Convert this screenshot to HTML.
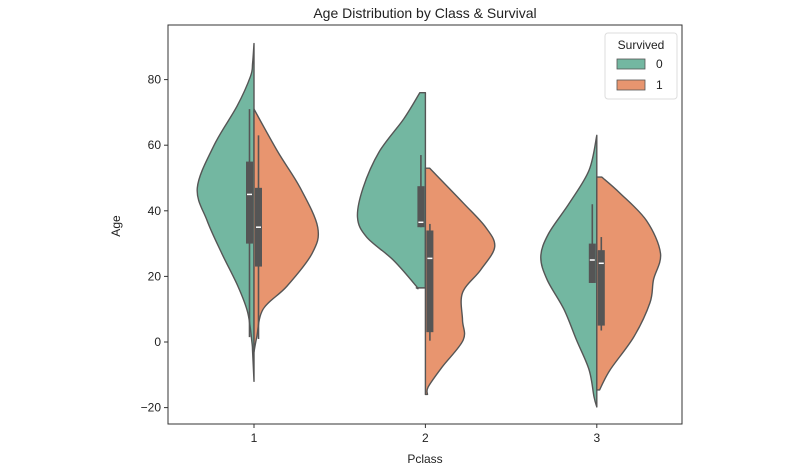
<!DOCTYPE html>
<html><head><meta charset="utf-8"><style>
body{margin:0;background:#fff;}
svg{display:block;font-family:"Liberation Sans","DejaVu Sans",sans-serif;}
</style></head><body>
<svg id="chart" width="800" height="470" viewBox="0 0 800 470" xmlns="http://www.w3.org/2000/svg">
<rect x="0" y="0" width="800" height="470" fill="#fff"/>
<text x="425" y="18" text-anchor="middle" font-size="14" fill="#222">Age Distribution by Class &amp; Survival</text>
<g id="plot"></g>
<text x="120" y="226" text-anchor="middle" font-size="12" fill="#222" transform="rotate(-90 120 226)">Age</text>
<text x="425" y="463" text-anchor="middle" font-size="12" fill="#222">Pclass</text>
<g>
<rect x="605" y="33" width="72" height="66" rx="3" fill="#fff" fill-opacity="0.8" stroke="#ddd"/>
<text x="641" y="49" text-anchor="middle" font-size="12" fill="#222">Survived</text>
<rect x="617" y="59" width="28" height="10" fill="#73b7a1" stroke="#555" stroke-width="0.8"/>
<text x="656" y="68" font-size="12" fill="#222">0</text>
<rect x="617" y="80" width="28" height="10" fill="#e8956f" stroke="#555" stroke-width="0.8"/>
<text x="656" y="89" font-size="12" fill="#222">1</text>
</g>
</svg>
<script>
const categories = ["1","2","3"];
const yTicks = [-20,0,20,40,60,80];
const ages_c1_s0 = [91,85,81,72,60,47,37,27,17,9,0,-3,-12];
const dens_c1_s0 = [0,0.02,0.05,0.24,0.57,0.81,0.67,0.46,0.23,0.09,0.03,0.02,0];
const ages_c1_s1 = [71,58,47,35,27,17,10,1.6,-3];
const dens_c1_s1 = [0,0.34,0.66,0.91,0.83,0.47,0.13,0.04,0];
const ages_c2_s0 = [76,68,58,47,38,32,25,17,16.5];
const dens_c2_s0 = [0.08,0.31,0.66,0.89,0.97,0.84,0.46,0.13,0.13];
const ages_c2_s1 = [53,42.4,35,29,22,15,6.7,0.6,-7.6,-13.7,-16];
const dens_c2_s1 = [0.06,0.54,0.86,0.99,0.79,0.53,0.53,0.54,0.24,0.04,0.03];
const ages_c3_s0 = [63,52.4,42.4,33,26,19,10,0.6,-8.5,-16.7,-19.8];
const dens_c3_s0 = [0,0.11,0.39,0.69,0.8,0.71,0.47,0.29,0.11,0.04,0];
const ages_c3_s1 = [50.3,45.4,37,27,19,12,1.6,-8.5,-14.6];
const dens_c3_s1 = [0.07,0.33,0.71,0.91,0.81,0.76,0.53,0.19,0.04];
// box stats: [whiskerLow, q1, median, q3, whiskerHigh]
const box_c1_s0 = [1.5,30,45,55,71];
const box_c1_s1 = [0.9,23,35,47,63];
const box_c2_s0 = [35,35,36.5,47.5,57];
const box_c2_s1 = [0.4,3,25.5,34,36];
const box_c3_s0 = [18,18,25,30,42];
const box_c3_s1 = [3.5,5,24,28,32];

const NS="http://www.w3.org/2000/svg";
const L=168,R=682,T=25,B=424;
const yMin=-25.1, yMax=96.5;
const y=v=>342-v*3.28;
const x=i=>254+i*171.4;
const widthScale=70;
const plot=document.getElementById('plot');
function mk(tag,attrs,parent){const e=document.createElementNS(NS,tag);for(const k in attrs)e.setAttribute(k,attrs[k]);(parent||plot).appendChild(e);return e;}

const frame=mk('rect',{x:L,y:T,width:R-L,height:B-T,fill:'none',stroke:'#333','stroke-width':1});



yTicks.forEach(t=>{
  const ln=mk('line',{x1:L-4,x2:L,y1:y(t),y2:y(t),stroke:'#333'});
  
  
  const tx=mk('text',{x:L-7,y:y(t)+4,'text-anchor':'end','font-size':12,fill:'#222'});
  tx.textContent=t<0?'\u2212'+Math.abs(t):String(t);
  
  
});
categories.forEach((c,i)=>{
  const ln=mk('line',{x1:x(i),x2:x(i),y1:B,y2:B+4,stroke:'#333'});
  
  
  const tx=mk('text',{x:x(i),y:B+18,'text-anchor':'middle','font-size':12,fill:'#222'});
  tx.textContent=c;
  
  
});

function smooth(pts){
  let d='';
  for(let i=0;i<pts.length-1;i++){
    const p0=pts[Math.max(0,i-1)],p1=pts[i],p2=pts[i+1],p3=pts[Math.min(pts.length-1,i+2)];
    const c1=[p1[0]+(p2[0]-p0[0])/6,p1[1]+(p2[1]-p0[1])/6];
    const c2=[p2[0]-(p3[0]-p1[0])/6,p2[1]-(p3[1]-p1[1])/6];
    d+=` C${c1[0]},${c1[1]} ${c2[0]},${c2[1]} ${p2[0]},${p2[1]}`;
  }
  return d;
}
const violins=[
  [0,-1,ages_c1_s0,dens_c1_s0,box_c1_s0],[0,1,ages_c1_s1,dens_c1_s1,box_c1_s1],
  [1,-1,ages_c2_s0,dens_c2_s0,box_c2_s0],[1,1,ages_c2_s1,dens_c2_s1,box_c2_s1],
  [2,-1,ages_c3_s0,dens_c3_s0,box_c3_s0],[2,1,ages_c3_s1,dens_c3_s1,box_c3_s1]];
violins.forEach(([ci,side,ages,dens,bx])=>{
  const cx=x(ci);
  const pts=ages.map((a,k)=>[cx+side*dens[k]*widthScale,y(a)]);
  let d=`M${cx},${y(ages[0])} L${pts[0][0]},${pts[0][1]}`+smooth(pts)+` L${cx},${y(ages[ages.length-1])} Z`;
  const p=mk('path',{d,fill:side<0?'#73b7a1':'#e8956f',stroke:'#555','stroke-width':1.4,'stroke-linejoin':'round'});
  
  
});
violins.forEach(([ci,side,ages,dens,bx])=>{
  const cx=x(ci);
  const bxL=side<0?cx-8:cx+1, bw=7, mx=bxL+bw/2;
  const wh=mk('line',{x1:mx,x2:mx,y1:y(bx[0]),y2:y(bx[4]),stroke:'#555','stroke-width':1.6});
  
  
  const r=mk('rect',{x:bxL,y:y(bx[3]),width:bw,height:y(bx[1])-y(bx[3]),fill:'#555'});
  
  
  const m=mk('line',{x1:bxL+1,x2:bxL+bw-1,y1:y(bx[2]),y2:y(bx[2]),stroke:'#fff','stroke-width':1.5});
  
  
});
</script>
</body></html>
